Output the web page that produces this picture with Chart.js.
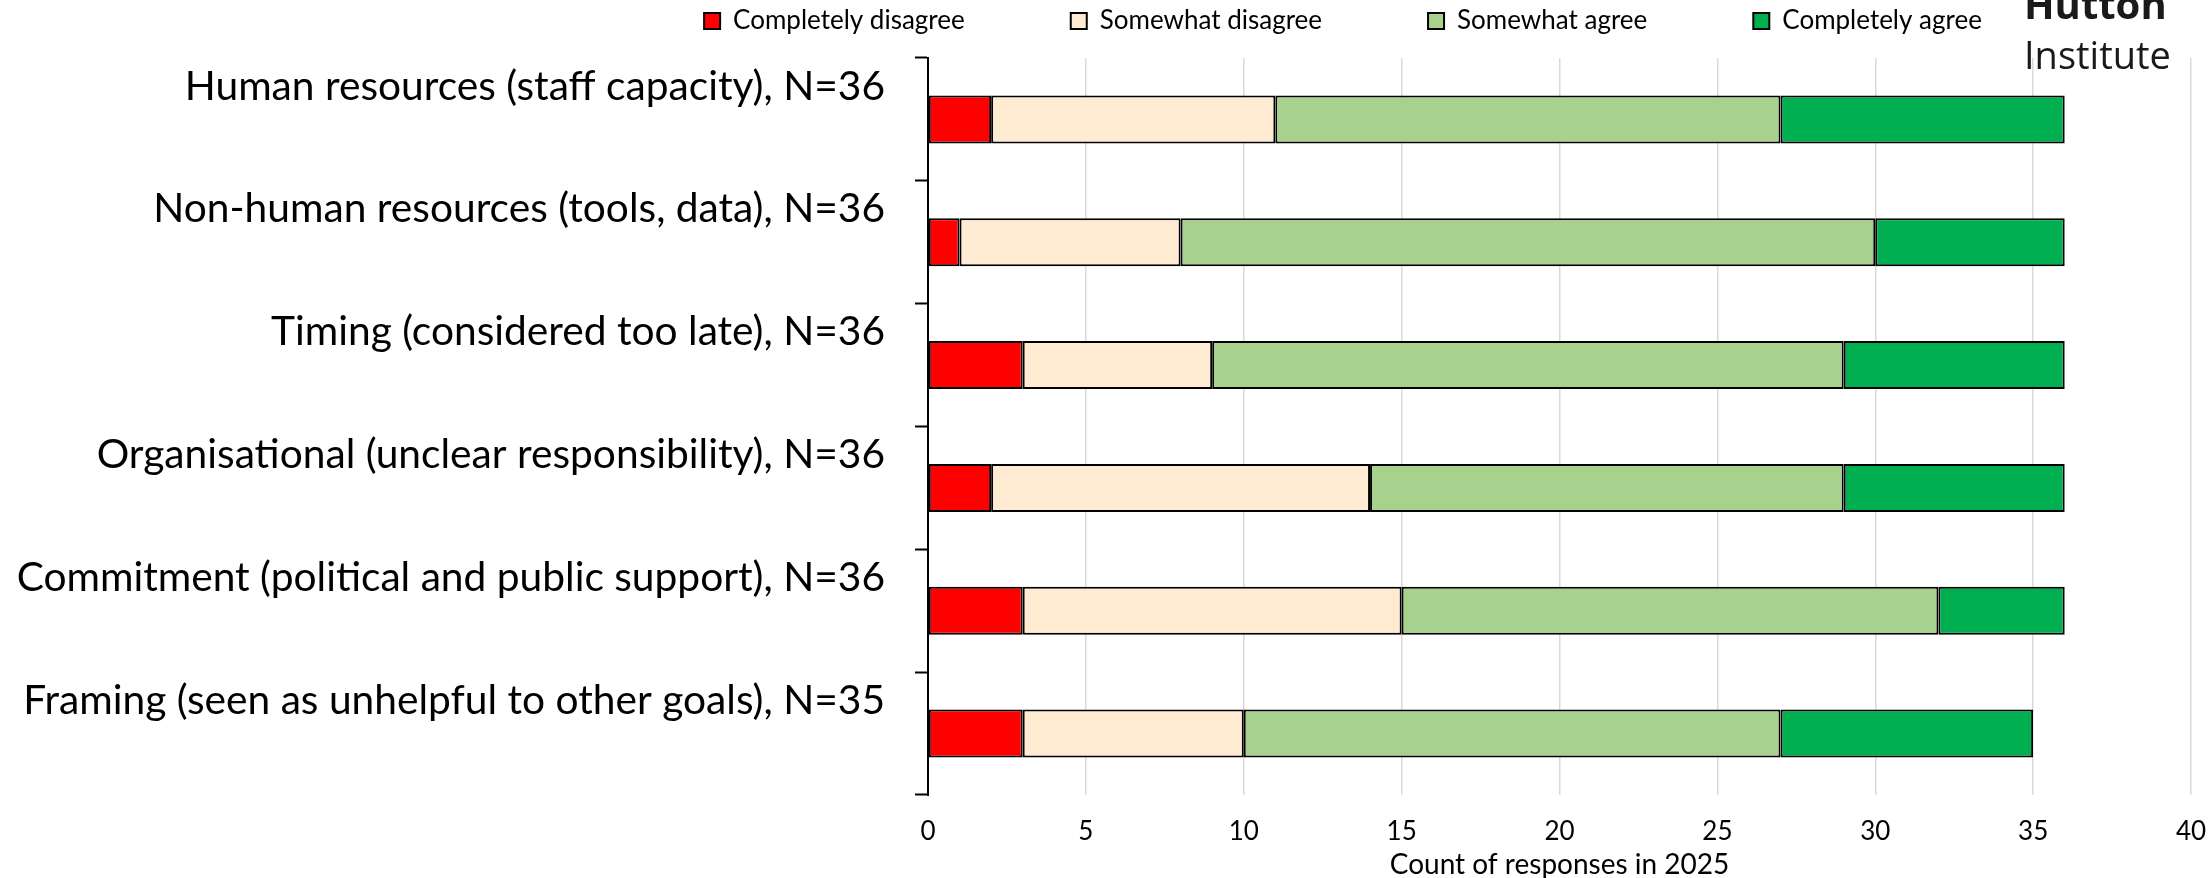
<!DOCTYPE html>
<html>
<head>
<meta charset="utf-8">
<title>Count of responses in 2025</title>
<script src="https://cdn.jsdelivr.net/npm/chart.js@4.4.1/dist/chart.umd.min.js"></script>
<style>
  html, body { margin: 0; padding: 0; background: #fff; }
  #wrap { position: relative; width: 2212px; height: 878px; }
</style>
</head>
<body>
<div id="wrap"><canvas id="chart-barriers"></canvas></div>
<script>
// categories (top to bottom)
let categories = [
	'Human resources (staff capacity), N=36',
	'Non-human resources (tools, data), N=36',
	'Timing (considered too late), N=36',
	'Organisational (unclear responsibility), N=36',
	'Commitment (political and public support), N=36',
	'Framing (seen as unhelpful to other goals), N=35',
]

// counts per answer
let completelyDisagree = [2, 1, 3, 2, 3, 3]
let somewhatDisagree = [9, 7, 6, 12, 12, 7]
let somewhatAgree = [16, 22, 20, 15, 17, 17]
let completelyAgree = [9, 6, 7, 7, 4, 8]

let seriesNames = ['Completely disagree', 'Somewhat disagree', 'Somewhat agree', 'Completely agree']
let xMin = 0
let xMax = 40
let xStep = 5

const FONT = "Lato, 'Open Sans', sans-serif"

let colors = [
	'#FF0000', // completely disagree
	'#FFEBD2', // somewhat disagree
	'#A9D18E', // somewhat agree
	'#00B050', // completely agree
]

let seriesData = [completelyDisagree, somewhatDisagree, somewhatAgree, completelyAgree]

let datasets = seriesData.map((values, i) => ({
	label: seriesNames[i],
	data: values,
	backgroundColor: colors[i],
	borderColor: '#000',
	borderWidth: 2,
	borderSkipped: false,
	barPercentage: 0.489,
	categoryPercentage: 0.8,
}))

// legend placement + logo text
let extras = {
	id: 'extras',
	afterLayout(chart) {
		let lg = chart.legend
		if (!lg) return
		let o = lg.options.labels
		let dx = 1343 - (lg.left + lg.right) / 2
		lg.left += dx
		lg.right += dx
		// text middle at y=21
		lg.top = 21 - o.padding - o.font.size / 2
		lg.bottom = lg.top + lg.height
	},
	afterDraw(chart) {
		let ctx = chart.ctx
		ctx.save()
		ctx.fillStyle = '#1a1a1a'
		ctx.textAlign = 'left'
		ctx.textBaseline = 'alphabetic'
		ctx.font = "bold 40px 'Open Sans', sans-serif"
		ctx.fillText('Hutton', 2024, 19)
		ctx.font = "38px 'Open Sans', sans-serif"
		ctx.fillText('Institute', 2024, 69)
		ctx.restore()
	}
}

let chart = new Chart(document.getElementById('chart-barriers'), {
	type: 'bar',
	data: {
		labels: categories,
		datasets,
	},
	plugins: [extras],
	options: {
		indexAxis: 'y',
		responsive: true,
		maintainAspectRatio: false,
		animation: false,
		layout: {
			padding: { top: -100, right: 21, bottom: 0, left: 0 }
		},
		plugins: {
			tooltip: { enabled: false },
			legend: {
				position: 'top',
				labels: {
					color: '#000',
					font: { family: FONT, size: 26 },
					boxWidth: 16,
					boxHeight: 16,
					padding: 106,
				}
			}
		},
		scales: {
			x: {
				stacked: true,
				min: xMin,
				max: xMax,
				ticks: {
					stepSize: xStep,
					color: '#000',
					padding: 21,
					font: { family: FONT, size: 26 },
				},
				grid: {
					color: c => (c.tick && c.tick.value === 0) ? 'rgba(0,0,0,0)' : '#d9d9d9',
					lineWidth: 1.5,
					drawTicks: false,
				},
				border: { display: false },
				title: {
					display: true,
					text: 'Count of responses in 2025',
					color: '#000',
					font: { family: FONT, size: 28 },
					padding: { top: 0, bottom: -4 },
				},
				afterFit(scale) {
					scale.height = 83
					scale.paddingRight = 21
				}
			},
			y: {
				stacked: true,
				ticks: {
					color: '#000',
					padding: 30,
					labelOffset: -33,
					font: { family: FONT, size: 40.7 },
				},
				grid: {
					drawOnChartArea: false,
					drawTicks: true,
					tickLength: 13,
					tickColor: '#000',
					tickWidth: 2,
				},
				border: { display: true, color: '#000', width: 2 },
				afterFit(scale) {
					scale.width = 928
					scale.paddingTop = 58
				}
			}
		}
	}
})
</script>
</body>
</html>
